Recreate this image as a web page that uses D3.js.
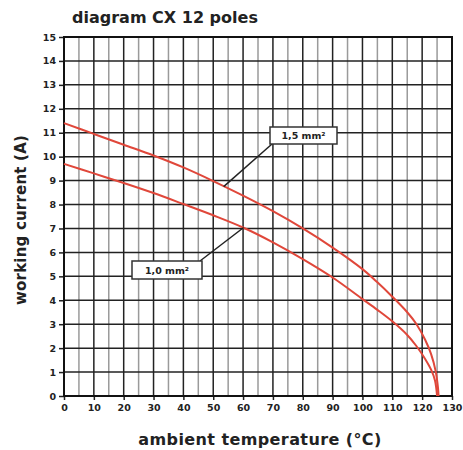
<!DOCTYPE html>
<html>
<head>
<meta charset="utf-8">
<script src="https://cdn.jsdelivr.net/npm/d3@7"></script>
<style>
	body { margin: 0; background: #fff; }
	text { font-family: "DejaVu Sans", sans-serif; font-weight: bold; fill: #222; }
</style>
</head>
<body>
<div id="chart"></div>
<script>
const xTicks = [0, 10, 20, 30, 40, 50, 60, 70, 80, 90, 100, 110, 120, 130];
const yTicks = [0, 1, 2, 3, 4, 5, 6, 7, 8, 9, 10, 11, 12, 13, 14, 15];

// 1,5 mm² curve
const temp15 = [0, 10, 20, 30, 40, 50, 60, 70, 80, 90, 100, 105, 110, 115, 118, 121, 123, 124.5, 125.3, 125.5];
const curr15 = [11.4, 10.95, 10.5, 10.05, 9.55, 8.98, 8.37, 7.72, 7.0, 6.2, 5.3, 4.75, 4.15, 3.5, 3.02, 2.35, 1.75, 1.05, 0.35, 0];

// 1,0 mm² curve
const temp10 = [0, 10, 20, 30, 40, 50, 60, 70, 80, 90, 100, 105, 110, 115, 118, 121, 123, 124.3, 125];
const curr10 = [9.7, 9.3, 8.9, 8.48, 8.02, 7.55, 7.04, 6.42, 5.72, 4.95, 4.05, 3.6, 3.12, 2.55, 2.1, 1.55, 1.1, 0.65, 0];

const labels = [
	{ text: '1,5 mm²', at: [53.5, 8.75], box: [270, 127, 67, 17] },
	{ text: '1,0 mm²', at: [60.2, 7.04], box: [132, 261, 70, 18] }
];

const width = 463, height = 450;
const margin = { top: 37, right: 11, bottom: 54, left: 64 };

const svg = d3.select('#chart').append('svg')
	.attr('width', width).attr('height', height);

const x = d3.scaleLinear().domain([0, 130]).range([margin.left, width - margin.right]);
const y = d3.scaleLinear().domain([0, 15]).range([height - margin.bottom, margin.top]);

// grid: light verticals every 5, dark every 10, horizontals every 1
const minor = d3.range(5, 130, 10);
svg.append('g').selectAll('line').data(minor).join('line')
	.attr('x1', d => x(d)).attr('x2', d => x(d))
	.attr('y1', y(0)).attr('y2', y(15))
	.attr('stroke', '#9a9a9a').attr('stroke-width', 1.5);

svg.append('g').selectAll('line').data(xTicks).join('line')
	.attr('x1', d => x(d)).attr('x2', d => x(d))
	.attr('y1', y(0)).attr('y2', y(15))
	.attr('stroke', '#222').attr('stroke-width', 1.5);

svg.append('g').selectAll('line').data(yTicks).join('line')
	.attr('x1', x(0)).attr('x2', x(130))
	.attr('y1', d => y(d)).attr('y2', d => y(d))
	.attr('stroke', '#222').attr('stroke-width', 1.5);

// axes
const xAxis = svg.append('g')
	.attr('transform', `translate(0, ${y(0)})`)
	.call(d3.axisBottom(x).tickValues(xTicks).tickSize(4).tickPadding(4));
const yAxis = svg.append('g')
	.attr('transform', `translate(${x(0)}, 0)`)
	.call(d3.axisLeft(y).tickValues(yTicks).tickSize(5).tickPadding(3));

[xAxis, yAxis].forEach(g => {
	g.select('.domain').remove();
	g.selectAll('line').attr('stroke', '#222').attr('stroke-width', 1.5);
	g.selectAll('text').attr('font-size', 9.5).attr('fill', '#222')
		.attr('font-family', '"DejaVu Sans", sans-serif').attr('font-weight', 'bold');
});

svg.append('rect')
	.attr('x', x(0)).attr('y', y(15))
	.attr('width', x(130) - x(0)).attr('height', y(0) - y(15))
	.attr('fill', 'none').attr('stroke', '#111').attr('stroke-width', 2);

// curves
const line = d3.line().x(d => x(d[0])).y(d => y(d[1])).curve(d3.curveCatmullRom);

[[temp15, curr15], [temp10, curr10]].forEach(([t, c]) => {
	svg.append('path')
		.attr('d', line(t.map((v, i) => [v, c[i]])))
		.attr('fill', 'none').attr('stroke', '#e0473a').attr('stroke-width', 2);
});

// callouts
labels.forEach(l => {
	const [bx, by, bw, bh] = l.box;
	const up = y(l.at[1]) > by;
	svg.append('line')
		.attr('x1', x(l.at[0])).attr('y1', y(l.at[1]))
		.attr('x2', up ? bx + 2 : bx + bw - 2).attr('y2', up ? by + bh : by)
		.attr('stroke', '#222').attr('stroke-width', 1.5);
	svg.append('rect')
		.attr('x', bx).attr('y', by).attr('width', bw).attr('height', bh)
		.attr('fill', '#fff').attr('stroke', '#333').attr('stroke-width', 1.5);
	svg.append('text')
		.attr('x', bx + bw / 2).attr('y', by + bh / 2 + 3.5)
		.attr('text-anchor', 'middle').attr('font-size', 9.5)
		.text(l.text);
});

// titles
svg.append('text')
	.attr('x', 72).attr('y', 23).attr('font-size', 16)
	.text('diagram CX 12 poles');

svg.append('text')
	.attr('x', 260).attr('y', 445)
	.attr('text-anchor', 'middle').attr('font-size', 16).attr('letter-spacing', 0.4)
	.text('ambient temperature (°C)');

svg.append('text')
	.attr('transform', `translate(26, 220) rotate(-90)`)
	.attr('text-anchor', 'middle').attr('font-size', 15).attr('letter-spacing', 0.2)
	.text('working current (A)');
</script>
</body>
</html>
